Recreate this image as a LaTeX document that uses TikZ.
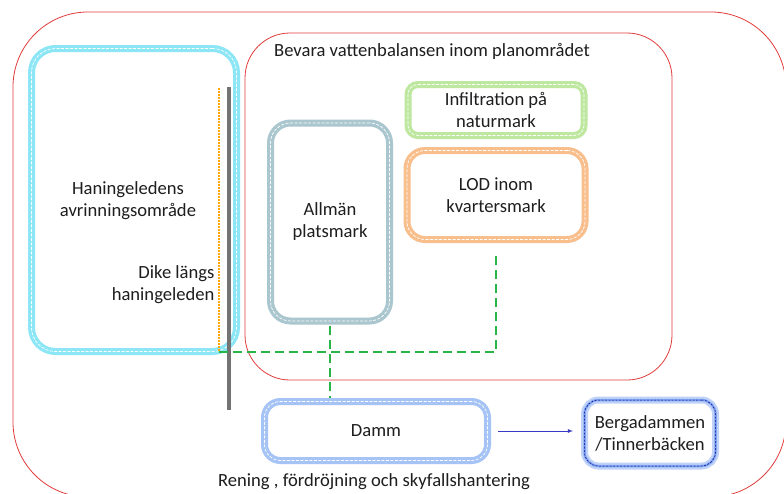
\documentclass[tikz,border=0pt]{standalone}
\usepackage{fontspec}
\setmainfont{Carlito}
\usetikzlibrary{calc}

\definecolor{zonered}{RGB}{225,60,60}
\definecolor{haningecol}{RGB}{140,230,245}
\definecolor{allmancol}{RGB}{170,198,206}
\definecolor{infiltcol}{RGB}{190,232,160}
\definecolor{lodcol}{RGB}{248,190,140}
\definecolor{dammcol}{RGB}{165,195,245}
\definecolor{bergacol}{RGB}{115,155,238}
\definecolor{flowgreen}{RGB}{40,180,70}
\definecolor{textgray}{RGB}{30,30,30}

\tikzset{
  zone/.style={draw=zonered,line width=0.8pt},
  pill/.style={draw=#1,line width=7pt,rounded corners=16pt,
    align=center,text=textgray,
    postaction={draw=white,line width=0.7pt,dash pattern=on 3pt off 1.5pt}},
  flow/.style={draw=flowgreen,line width=1.3pt,dash pattern=on 9pt off 5pt},
}

\begin{document}
\begin{tikzpicture}[x=1pt,y=-1pt,font=\fontsize{18.6}{22}\selectfont]
  \clip (0,0) rectangle (784,493);
  \fill[white] (0,0) rectangle (784,493);
  % zones
  \draw[zone,rounded corners=75pt] (13,12) rectangle (786,497);
  \draw[zone,rounded corners=45pt] (245,33) rectangle (672,380);
  \node[text=textgray] (vattenbalans) at (432,51)
    {Bevara vattenbalansen inom planområdet};
  \node[text=textgray] (rening) at (374,482)
    {Rening , fördröjning och skyfallshantering};

  % boxes
  \node[pill=haningecol,rounded corners=24pt,minimum width=205pt,minimum height=303pt]
    (haninge) at (134,200) {};
  \node[text=textgray,align=center] (haningetext) at (128,201)
    {Haningeledens\\avrinningsområde};
  \node[pill=allmancol,rounded corners=20pt,minimum width=119pt,minimum height=198pt]
    (allman) at (330,222) {Allmän\\platsmark};
  \node[pill=infiltcol,rounded corners=10pt,minimum width=176pt,minimum height=51pt]
    (infilt) at (496,110) {Infiltration på\\naturmark};
  \node[pill=lodcol,rounded corners=18pt,minimum width=178pt,minimum height=89pt]
    (lod) at (496,195) {LOD inom\\kvartersmark};
  \node[pill=dammcol,minimum width=223pt,minimum height=59pt]
    (damm) at (376,431) {Damm};
  \node[draw=bergacol!45,line width=7pt,rounded corners=14pt,
    minimum width=131pt,minimum height=66pt,align=center,text=textgray,
    postaction={draw=bergacol!90,line width=2.5pt},
    postaction={draw=blue!55!black,line width=0.5pt,dash pattern=on 2pt off 1.5pt}]
    (berga) at (650,433) {Bergadammen\\/Tinnerbäcken};

  % dike
  \draw[gray!90!black,line width=4pt] (229,87) coordinate (diketop)
    -- (229,410) coordinate (dikebot);
  \draw[orange!70!yellow,line width=1.2pt,dash pattern=on 1.5pt off 1.5pt]
    (219,88) -- (219,352) coordinate (dikeend);
  \node[text=textgray,align=right,anchor=east] (dike) at (218,285)
    {Dike längs\\haningeleden};

  % flows
  \draw[flow] (dikeend) -| ([yshift=-10pt]lod.south);
  \draw[flow] ([yshift=-1pt]allman.south) -- (allman.south |- damm.north);
  \draw[-latex,draw=blue!55!gray,line width=0.8pt,shorten <=7pt,shorten >=8pt]
    (damm.east) -- (damm.east -| berga.west);
\end{tikzpicture}
\end{document}
